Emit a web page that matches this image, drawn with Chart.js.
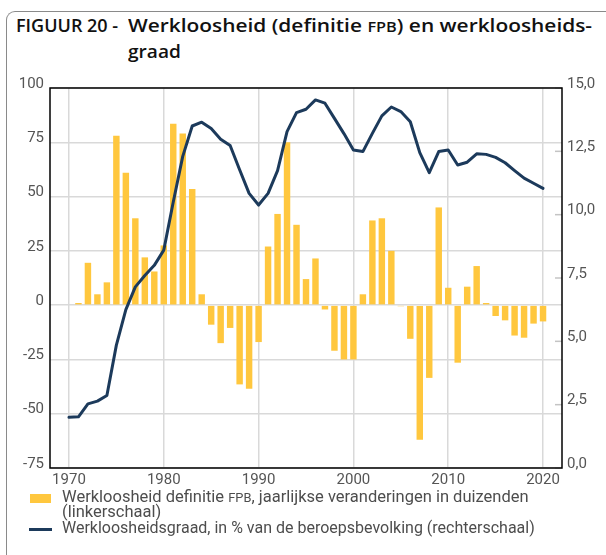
<!DOCTYPE html>
<html>
<head>
<meta charset="utf-8">
<script src="https://cdn.jsdelivr.net/npm/chart.js@4.4.1/dist/chart.umd.min.js"></script>
<style>
html,body{margin:0;padding:0;background:#fff;}
body{width:606px;height:555px;position:relative;overflow:hidden;font-family:Roboto,sans-serif;}
#frame{position:absolute;left:6px;top:11px;width:700px;height:700px;border-left:1px solid #8a8a8a;border-top:1px solid #8a8a8a;border-top-left-radius:9px;box-sizing:border-box;}
.t{position:absolute;white-space:nowrap;transform-origin:0 0;}
.title{font-family:"Open Sans",sans-serif;font-weight:600;font-size:18px;line-height:20px;color:#111;}
.leg{font-family:Roboto,sans-serif;font-size:16px;line-height:16px;color:#4d4d4d;}
.sc{font-size:0.78em;}
#cwrap{position:absolute;left:0;top:0;width:606px;height:490px;}
.sw{position:absolute;}
</style>
</head>
<body>
<div id="frame"></div>
<div class="t title" style="left:16px;top:14.7px" data-w="102">FIGUUR 20 -</div>
<div class="t title" style="left:128px;top:14.7px" data-w="464">Werkloosheid (definitie <span class="sc">FPB</span>) en werkloosheids-</div>
<div class="t title" style="left:128px;top:41.3px" data-w="53">graad</div>
<div id="cwrap"><canvas id="c" width="606" height="490"></canvas></div>
<div class="sw" id="swBar" style="left:30px;top:494px;width:21px;height:9px;"></div>
<div class="sw" id="swLine" style="left:29px;top:527.5px;width:23px;height:3px;"></div>
<div class="t leg" id="l1" style="left:62px;top:489.2px" data-w="467">Werkloosheid definitie <span class="sc">FPB</span>, jaarlijkse veranderingen in duizenden</div>
<div class="t leg" id="l2" style="left:62px;top:503.5px" data-same="l1">(linkerschaal)</div>
<div class="t leg" id="l3" style="left:62px;top:519.8px" data-w="473">Werkloosheidsgraad, in % van de beroepsbevolking (rechterschaal)</div>
<script>
// ---- data ----
const barYears = [1971,1972,1973,1974,1975,1976,1977,1978,1979,1980,
  1981,1982,1983,1984,1985,1986,1987,1988,1989,1990,
  1991,1992,1993,1994,1995,1996,1997,1998,1999,2000,
  2001,2002,2003,2004,2005,2006,2007,2008,2009,2010,
  2011,2012,2013,2014,2015,2016,2017,2018,2019,2020];
const unemploymentChange = [1,19.5,5,10.5,78,61,40,22,15.5,27.5,
  83.5,79,53.5,5,-9,-17.5,-10.5,-36.5,-38.5,-17,
  27,42,75,37,12,21.5,-2,-21,-25,-25,
  5,39,40,25,-0.5,-15.5,-62,-33.5,45,8,
  -26.5,8.5,18,1,-5,-7,-14,-15,-8.5,-7.5];
const lineYears = [1970,1971,1972,1973,1974,1975,1976,1977,1978,1979,1980,
  1981,1982,1983,1984,1985,1986,1987,1988,1989,1990,
  1991,1992,1993,1994,1995,1996,1997,1998,1999,2000,
  2001,2002,2003,2004,2005,2006,2007,2008,2009,2010,
  2011,2012,2013,2014,2015,2016,2017,2018,2019,2020];
const unemploymentRate = [2.0,2.02,2.53,2.64,2.86,4.85,6.25,7.15,7.6,8.0,8.6,
  10.5,12.3,13.5,13.65,13.4,12.98,12.73,11.77,10.84,10.38,
  10.84,11.74,13.28,14.03,14.16,14.53,14.4,13.8,13.2,12.55,
  12.49,13.21,13.9,14.25,14.07,13.67,12.45,11.66,12.49,12.55,
  11.96,12.07,12.4,12.38,12.26,12.05,11.74,11.44,11.24,11.04];
const xTicks = [1970,1980,1990,2000,2010,2020];
const leftTicks = [-75,-50,-25,0,25,50,75,100];
const rightTicks = [0,2.5,5,7.5,10,12.5,15];

const barColor = '#FFC73E';
const lineColor = '#1C3A5B';
document.getElementById('swBar').style.background = barColor;
document.getElementById('swLine').style.background = lineColor;

const tickFont = {family:'Roboto', size:15};
const tickColor = '#555';
const gridColor = '#d9d9d9';

const framePlugin = {
  id:'frame',
  afterDraw(chart){
    const {ctx, chartArea:a, scales} = chart;
    ctx.save();
    ctx.strokeStyle = '#c4c4c4';
    ctx.lineWidth = 1.5;
    scales.y1.ticks.forEach(t => {
      const y = scales.y1.getPixelForValue(t.value);
      ctx.beginPath(); ctx.moveTo(a.right-7, y); ctx.lineTo(a.right, y); ctx.stroke();
    });
    ctx.strokeStyle = '#000';
    ctx.lineWidth = 1.5;
    ctx.strokeRect(a.left, a.top, a.right-a.left, a.bottom-a.top);
    ctx.restore();
  }
};

new Chart(document.getElementById('c'), {
  type:'bar',
  data:{
    datasets:[
      {type:'line', label:'Werkloosheidsgraad', yAxisID:'y1',
       data: lineYears.map((x,i)=>({x, y:unemploymentRate[i]})),
       borderColor: lineColor, borderWidth:3, pointRadius:0, tension:0,
       borderJoinStyle:'round', borderCapStyle:'round', order:0},
      {type:'bar', label:'Werkloosheid', yAxisID:'y',
       data: barYears.map((x,i)=>({x, y:unemploymentChange[i]})),
       backgroundColor: barColor, barPercentage:0.68, categoryPercentage:1, order:1}
    ]
  },
  options:{
    responsive:false, animation:false, devicePixelRatio:1,
    layout:{padding:{top:88,left:0,right:0,bottom:0}},
    plugins:{legend:{display:false}, tooltip:{enabled:false}},
    scales:{
      x:{type:'linear', min:1968, max:2022, offset:false,
         afterBuildTicks:s=>{s.ticks = xTicks.map(v=>({value:v}));},
         afterFit:s=>{s.height = 22;},
         grid:{color:gridColor, lineWidth:1.5, drawTicks:false, offset:false},
         border:{display:false},
         ticks:{color:tickColor, font:tickFont, padding:3, maxRotation:0, autoSkip:false, callback:v=>String(v)}},
      y:{position:'left', min:-75, max:100,
         afterBuildTicks:s=>{s.ticks = leftTicks.map(v=>({value:v}));},
         afterFit:s=>{s.width = 50;},
         grid:{color:gridColor, lineWidth:1.5, drawTicks:false},
         border:{display:false},
         ticks:{color:tickColor, font:tickFont, padding:6, labelOffset:-4, callback:v=>String(v)}},
      y1:{position:'right', min:0, max:15,
         afterBuildTicks:s=>{s.ticks = rightTicks.map(v=>({value:v}));},
         afterFit:s=>{s.width = 44;},
         grid:{display:false, drawOnChartArea:false, drawTicks:false},
         border:{display:false},
         ticks:{color:tickColor, font:tickFont, padding:5, labelOffset:-4, callback:v=>v.toFixed(1).replace('.',',')}}
    }
  },
  plugins:[framePlugin]
});

function fit(){
  const scales = {};
  document.querySelectorAll('[data-w]').forEach(el=>{
    el.style.transform = 'none';
    const k = parseFloat(el.dataset.w) / el.offsetWidth;
    scales[el.id] = k;
    el.style.transform = 'scaleX(' + k + ')';
  });
  document.querySelectorAll('[data-same]').forEach(el=>{
    const k = scales[el.dataset.same] || 1;
    el.style.transform = 'scaleX(' + k + ')';
  });
}
fit();
if (document.fonts && document.fonts.ready) document.fonts.ready.then(fit);
</script>
</body>
</html>
